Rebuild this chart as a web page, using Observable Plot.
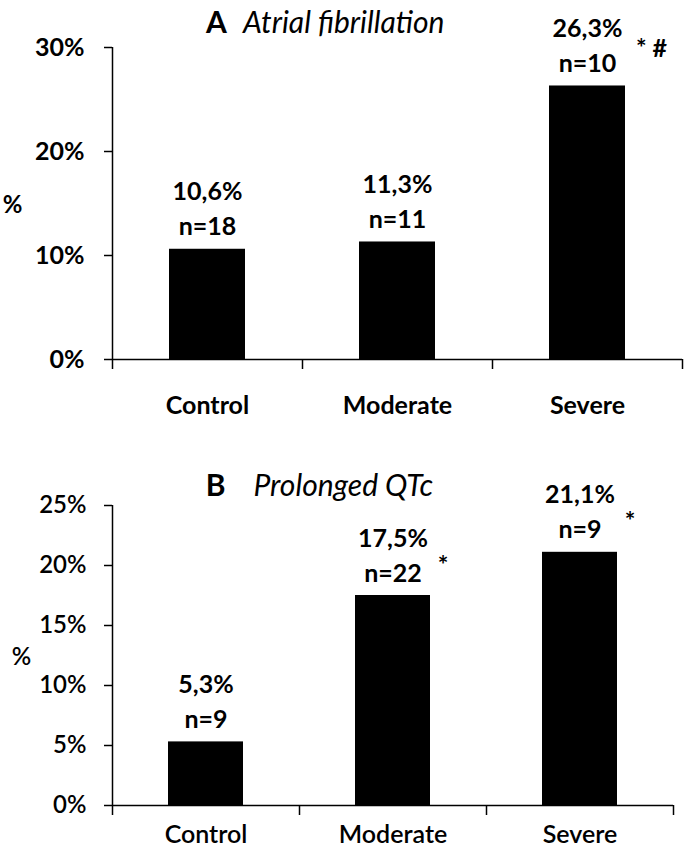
<!DOCTYPE html>
<html><head><meta charset="utf-8">
<script src="https://cdn.jsdelivr.net/npm/d3@7"></script>
<script src="https://cdn.jsdelivr.net/npm/@observablehq/plot@0.6"></script>
<style>
body{margin:0;background:#fff;}
#chart{width:685px;}
#chart svg{display:block;overflow:visible;}
</style></head><body><div id="chart"></div>
<script>
const categories = ["Control", "Moderate", "Severe"];

const afValues = [10.6, 11.3, 26.3];
const afCounts = [18, 11, 10];
const afSignif = ["", "", "* #"];
const afTicks = [0, 10, 20, 30];

const qtValues = [5.3, 17.5, 21.1];
const qtCounts = [9, 22, 9];
const qtSignif = ["", "*", "*"];
const qtTicks = [0, 5, 10, 15, 20, 25];

const fmtPct = v => v.toFixed(1).replace(".", ",") + "%";

function panel(cfg) {
  const rows = categories.map((c, i) => ({category: c, value: cfg.values[i], n: cfg.counts[i], sig: cfg.signif[i]}));
  const fh = cfg.height - cfg.mt - cfg.mb;
  const step = (685 - cfg.ml - cfg.mr) / categories.length;
  const lw = 1.5;
  return Plot.plot({
    width: 685, height: cfg.height,
    marginLeft: cfg.ml, marginRight: cfg.mr, marginTop: cfg.mt, marginBottom: cfg.mb,
    style: {fontFamily: "Lato, sans-serif", fontSize: "25px", fontWeight: cfg.tickWeight, background: "white", overflow: "visible", color: "black"},
    x: {domain: categories, paddingInner: 0.6, paddingOuter: 0.3, label: null},
    y: {domain: [0, cfg.ticks[cfg.ticks.length - 1]], label: null},
    marks: [
      Plot.barY(rows, {x: "category", y: "value", fill: "black"}),
      Plot.ruleY([0], {stroke: "black", strokeWidth: lw}),
      Plot.ruleX([categories[0]], {x: d => d, dx: -step / 2, insetBottom: -10, stroke: "black", strokeWidth: lw}),
      Plot.ruleX(categories.slice(1), {x: d => d, dx: -step / 2, insetTop: fh, insetBottom: -10, stroke: "black", strokeWidth: lw}),
      Plot.ruleX([categories[categories.length - 1]], {x: d => d, dx: step / 2, insetTop: fh, insetBottom: -10, stroke: "black", strokeWidth: lw}),
      Plot.axisY({ticks: cfg.ticks, tickSize: 8, tickPadding: cfg.tickPad, tickFormat: d => d + "%", label: null, strokeWidth: lw, fontSize: cfg.tickSize}),
      Plot.axisX({tickSize: 0, tickPadding: cfg.catPad, label: null, fontSize: 25}),
      Plot.text(["%"], {frameAnchor: "left", dx: cfg.pctDx, dy: 2, text: d => d, textAnchor: "middle", lineAnchor: "middle", fontSize: 24, fontWeight: cfg.tickWeight}),
      Plot.text([cfg.letter], {frameAnchor: "top-left", dx: cfg.letterDx, dy: cfg.titleDy, text: d => d, textAnchor: "middle", lineAnchor: "middle", fontSize: 30, fontWeight: "bold"}),
      Plot.text([cfg.title], {frameAnchor: "top-left", dx: cfg.titleDx, dy: cfg.titleDy, text: d => d, textAnchor: "start", lineAnchor: "middle", fontSize: 30, fontWeight: "normal", fontStyle: "italic"}),
      Plot.text(rows, {x: "category", y: "value", text: d => fmtPct(d.value), dy: -57, lineAnchor: "middle", fontSize: 25, fontWeight: cfg.valueWeight}),
      Plot.text(rows, {x: "category", y: "value", text: d => "n=" + d.n, dy: -22, lineAnchor: "middle", fontSize: 25, fontWeight: cfg.valueWeight}),
      Plot.text(rows.filter(d => d.sig), {x: "category", y: "value", text: "sig", dx: cfg.sigDx, dy: cfg.sigDy, lineAnchor: "middle", fontSize: 25, fontWeight: cfg.valueWeight})
    ]
  });
}

const chart = document.getElementById("chart");
chart.appendChild(panel({
  letter: "A", title: "Atrial fibrillation", values: afValues, counts: afCounts, signif: afSignif, ticks: afTicks,
  height: 440, ml: 112, mr: 3, mt: 47, mb: 81, tickPad: 20, tickSize: 25, tickWeight: "bold", valueWeight: "bold", catPad: 37,
  pctDx: -100, letterDx: 104, titleDx: 130.5, titleDy: -24, sigDx: 64, sigDy: -37
}));
chart.appendChild(panel({
  letter: "B", title: "Prolonged QTc", values: qtValues, counts: qtCounts, signif: qtSignif, ticks: qtTicks,
  height: 411, ml: 112, mr: 12, mt: 65, mb: 46, tickPad: 18, tickSize: 24, tickWeight: 600, valueWeight: "bold", catPad: 20,
  pctDx: -91, letterDx: 103, titleDx: 141, titleDy: -19, sigDx: 50, sigDy: -30
}));
</script></body></html>
